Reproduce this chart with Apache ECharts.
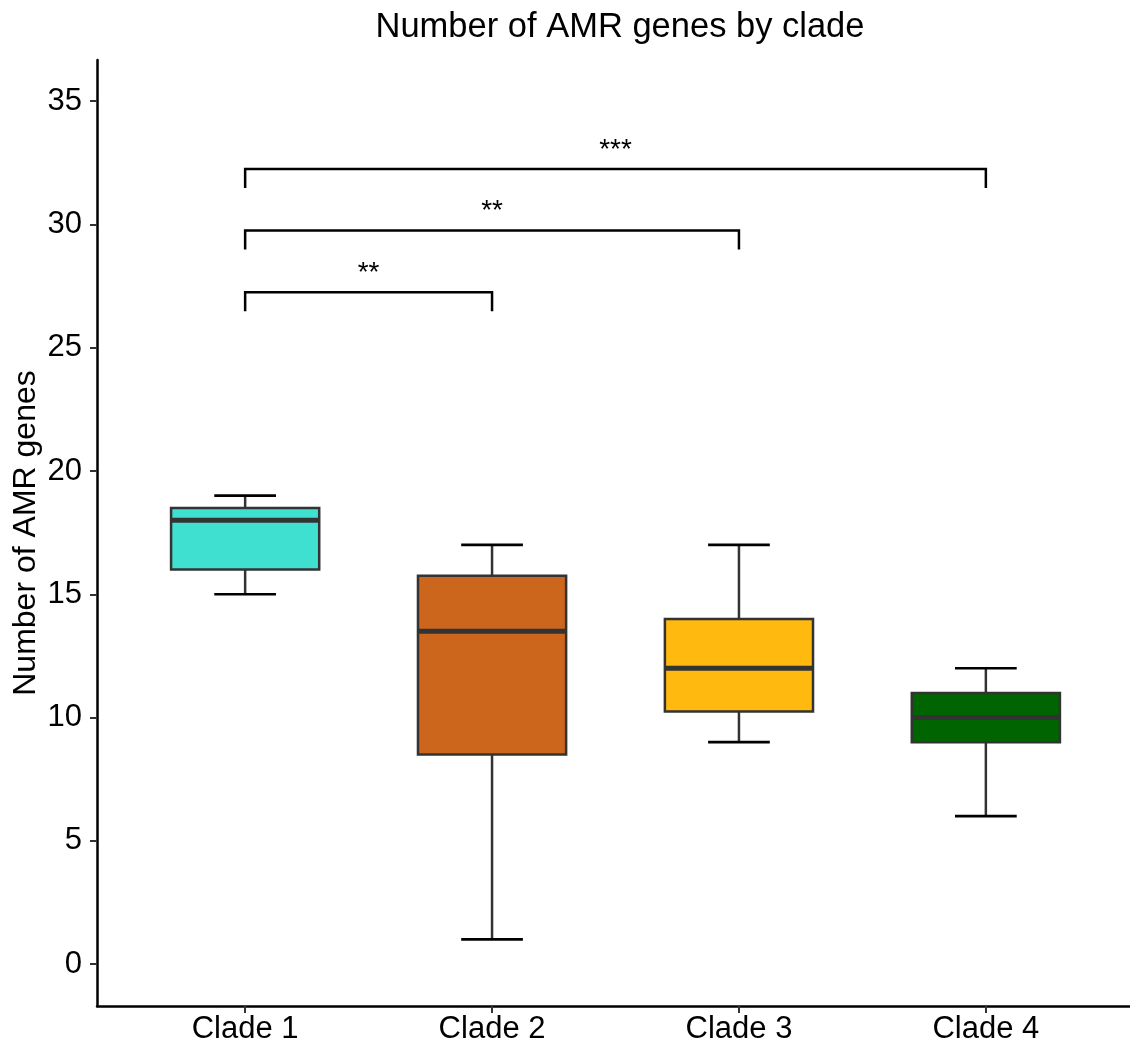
<!DOCTYPE html>
<html>
<head>
<meta charset="utf-8">
<script src="https://cdn.jsdelivr.net/npm/echarts@6/dist/echarts.min.js"></script>
<style>
html,body{margin:0;padding:0;background:#fff;}
#chart{width:1130px;height:1052px;}
</style>
</head>
<body>
<div id="chart"></div>
<script>
// ---- data ----
const categories = ['Clade 1', 'Clade 2', 'Clade 3', 'Clade 4'];
const whiskerLow = [15, 1, 9, 6];
const q1 = [16, 8.5, 10.25, 9];
const median = [18, 13.5, 12, 10];
const q3 = [18.5, 15.75, 14, 11];
const whiskerHigh = [19, 17, 17, 12];
const yTicks = [0, 5, 10, 15, 20, 25, 30, 35];
const sigFrom = [1, 1, 1];
const sigTo = [2, 3, 4];
const sigY = [27.25, 29.75, 32.25];
const sigLabels = ['**', '**', '***'];

// ---- styles ----
const palette = ['#40E0D0', '#CD661D', '#FFB90F', '#006400'];
const FONT = '"Liberation Sans", Arial, Helvetica, sans-serif';

const boxData = categories.map((c, i) => [i + 1, whiskerLow[i], q1[i], median[i], q3[i], whiskerHigh[i], i]);
const sigData = sigFrom.map((f, i) => [f, sigTo[i], sigY[i], i]);

const chart = echarts.init(document.getElementById('chart'), null, {renderer: 'canvas'});
chart.setOption({
  backgroundColor: '#fff',
  animation: false,
  title: {
    text: 'Number of AMR genes by clade',
    left: 615,
    textAlign: 'center',
    top: 5,
    textStyle: {fontFamily: FONT, fontSize: 34.5, fontWeight: 'normal', color: '#000'}
  },
  grid: {left: 97, right: -4, top: 60, bottom: 46, containLabel: false, outerBoundsMode: 'none'},
  xAxis: {
    type: 'value',
    min: 0.4,
    max: 4.6,
    splitLine: {show: false},
    axisLine: {show: true, onZero: false, lineStyle: {color: '#000', width: 2.5}},
    axisTick: {show: true, customValues: [1, 2, 3, 4], length: 7, lineStyle: {color: '#333', width: 2}},
    axisLabel: {
      show: true, customValues: [1, 2, 3, 4], margin: 8,
      formatter: v => categories[Math.round(v) - 1] || '',
      fontFamily: FONT, fontSize: 31, color: '#000'
    }
  },
  yAxis: {
    type: 'value',
    min: -1.7,
    max: 36.67,
    name: 'Number of AMR genes',
    nameLocation: 'middle',
    nameGap: 55,
    nameMoveOverlap: false,
    nameTextStyle: {fontFamily: FONT, fontSize: 32, color: '#000'},
    splitLine: {show: false},
    axisLine: {show: true, onZero: false, lineStyle: {color: '#000', width: 2.5}},
    axisTick: {show: true, customValues: yTicks, length: 7, lineStyle: {color: '#333', width: 2}},
    axisLabel: {show: true, customValues: yTicks, margin: 15, fontFamily: FONT, fontSize: 31, color: '#000'}
  },
  series: [
    {
      type: 'custom',
      name: 'boxes',
      data: boxData,
      encode: {x: 0, y: [1, 2, 3, 4, 5]},
      renderItem: function (params, api) {
        const x = api.value(0);
        const lo = api.coord([x, api.value(1)]);
        const b1 = api.coord([x, api.value(2)]);
        const md = api.coord([x, api.value(3)]);
        const b3 = api.coord([x, api.value(4)]);
        const hi = api.coord([x, api.value(5)]);
        const bw = api.size([0.6, 0])[0];
        const cw = api.size([0.25, 0])[0];
        const cx = lo[0];
        const col = palette[api.value(6)];
        return {
          type: 'group',
          children: [
            {type: 'line', shape: {x1: cx, y1: lo[1], x2: cx, y2: hi[1]}, style: {stroke: '#333', lineWidth: 2.5}},
            {type: 'line', shape: {x1: cx - cw / 2, y1: hi[1], x2: cx + cw / 2, y2: hi[1]}, style: {stroke: '#000', lineWidth: 2.7}},
            {type: 'line', shape: {x1: cx - cw / 2, y1: lo[1], x2: cx + cw / 2, y2: lo[1]}, style: {stroke: '#000', lineWidth: 2.7}},
            {type: 'rect', shape: {x: cx - bw / 2, y: b3[1], width: bw, height: b1[1] - b3[1]}, style: {fill: col, stroke: '#333', lineWidth: 2.5}},
            {type: 'line', shape: {x1: cx - bw / 2, y1: md[1], x2: cx + bw / 2, y2: md[1]}, style: {stroke: '#333', lineWidth: 5}}
          ]
        };
      }
    },
    {
      type: 'custom',
      name: 'significance',
      data: sigData,
      encode: {x: [0, 1], y: 2},
      renderItem: function (params, api) {
        const y = api.value(2);
        const drop = 0.77;
        const a = api.coord([api.value(0), y]);
        const b = api.coord([api.value(1), y]);
        const a2 = api.coord([api.value(0), y - drop]);
        const b2 = api.coord([api.value(1), y - drop]);
        return {
          type: 'group',
          children: [
            {type: 'polyline', shape: {points: [[a2[0], a2[1]], [a[0], a[1]], [b[0], b[1]], [b2[0], b2[1]]]}, style: {stroke: '#000', lineWidth: 2.5, fill: null}},
            {type: 'text', style: {text: sigLabels[api.value(3)], x: (a[0] + b[0]) / 2, y: a[1] - 19, align: 'center', verticalAlign: 'middle', fontFamily: FONT, fontSize: 28, fill: '#000'}}
          ]
        };
      }
    }
  ]
});
</script>
</body>
</html>
